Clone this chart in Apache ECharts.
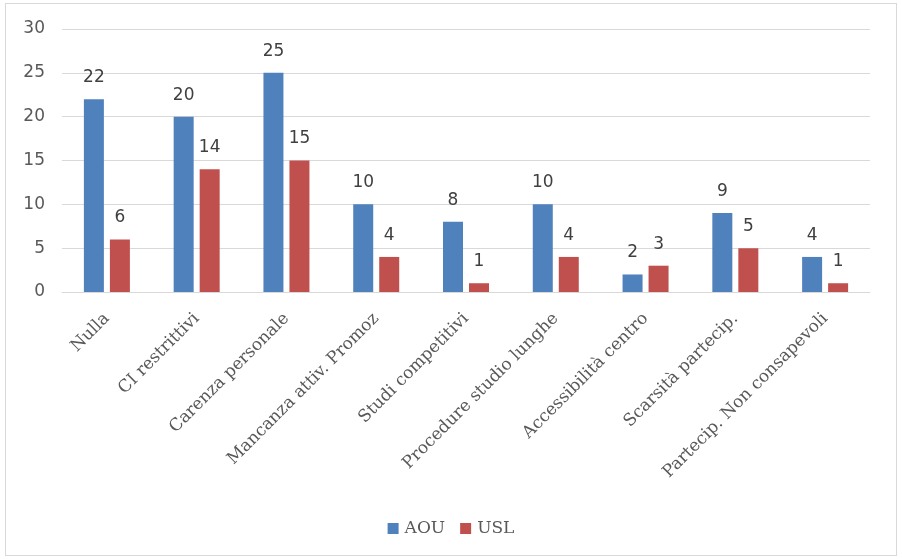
<!DOCTYPE html>
<html>
<head>
<meta charset="utf-8">
<script src="https://cdn.jsdelivr.net/npm/echarts@6/dist/echarts.min.js"></script>
<style>
html,body{margin:0;padding:0;background:#fff;}
#frame{position:absolute;left:5px;top:3px;width:892px;height:553px;border:1px solid #d9d9d9;box-sizing:border-box;}
#chart{position:absolute;left:0;top:0;width:902px;height:559px;}
</style>
</head>
<body>
<div id="frame"></div>
<div id="chart"></div>
<script>
const categories = ["Nulla", "CI restrittivi", "Carenza personale", "Mancanza attiv. Promoz", "Studi competitivi", "Procedure studio lunghe", "Accessibilità centro", "Scarsità partecip.", "Partecip. Non consapevoli"];
const seriesNames = ["AOU", "USL"];
const aouValues = [22, 20, 25, 10, 8, 10, 2, 9, 4];
const uslValues = [6, 14, 15, 4, 1, 4, 3, 5, 1];
const yTicks = [0, 5, 10, 15, 20, 25, 30];

const chart = echarts.init(document.getElementById('chart'), null, {renderer: 'canvas'});
const labelStyle = {
  show: true, position: 'top', distance: 13,
  color: '#404040', fontSize: 17, fontFamily: 'DejaVu Sans'
};
chart.setOption({
  animation: false,
  backgroundColor: 'transparent',
  grid: {left: 62, right: 32, top: 29, bottom: 267, containLabel: false},
  legend: {
    top: 515, left: 'center',
    itemWidth: 11, itemHeight: 11, itemGap: 15,
    icon: 'rect',
    textStyle: {color: '#595959', fontSize: 17, fontFamily: 'DejaVu Serif', padding: [0, 0, 0, 1]},
    data: seriesNames
  },
  xAxis: {
    type: 'category',
    data: categories,
    axisLine: {show: true, lineStyle: {color: '#d9d9d9', width: 1}},
    axisTick: {show: false},
    axisLabel: {
      rotate: 45, interval: 0, margin: 24,
      color: '#595959', fontSize: 17, fontFamily: 'DejaVu Serif'
    }
  },
  yAxis: {
    type: 'value',
    min: yTicks[0], max: yTicks[yTicks.length - 1], interval: 5,
    axisLine: {show: false},
    axisTick: {show: false},
    splitLine: {lineStyle: {color: '#d9d9d9', width: 1}},
    axisLabel: {color: '#595959', fontSize: 17, fontFamily: 'DejaVu Sans', margin: 17}
  },
  series: [
    {name: seriesNames[0], type: 'bar', data: aouValues, itemStyle: {color: '#4F81BD'},
     barWidth: 20, barGap: '30%', label: labelStyle},
    {name: seriesNames[1], type: 'bar', data: uslValues, itemStyle: {color: '#C0504D'},
     barWidth: 20, barGap: '30%', label: labelStyle}
  ]
});
</script>
</body>
</html>
